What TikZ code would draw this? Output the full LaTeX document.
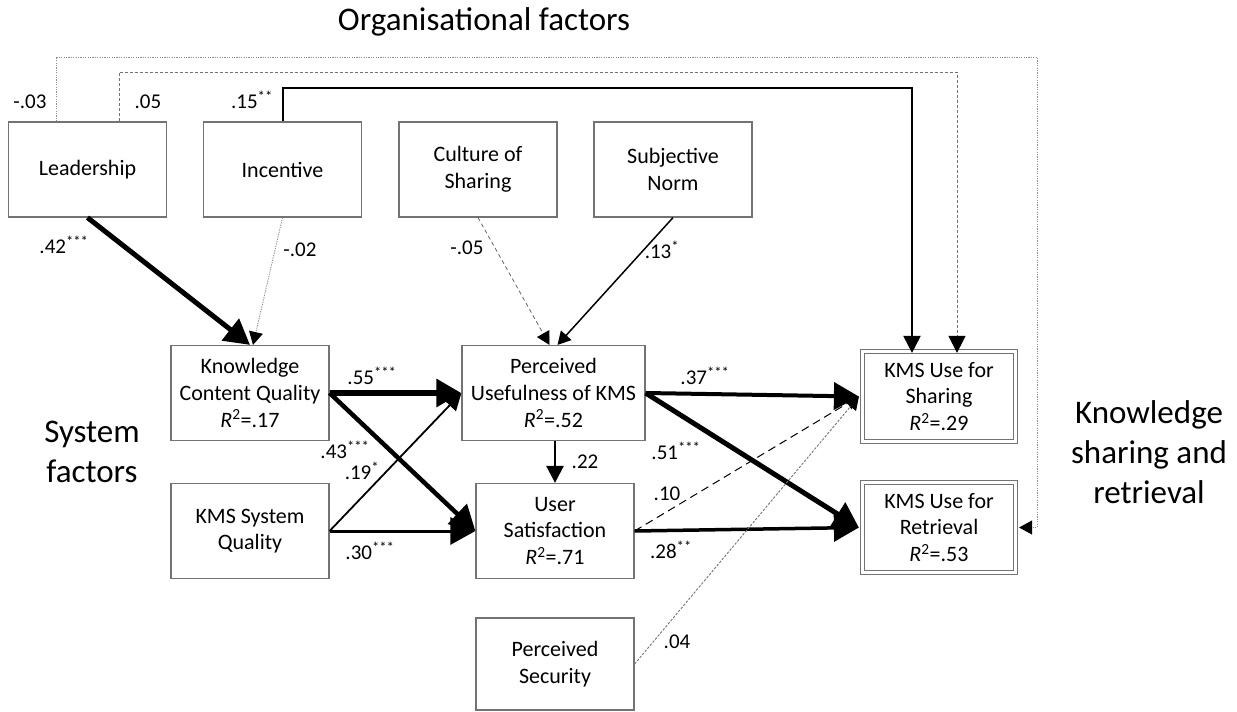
\documentclass[tikz,border=0pt]{standalone}
\usepackage{fontspec}
\setmainfont{Carlito}
\usetikzlibrary{arrows.meta,calc}
\begin{document}
\begin{tikzpicture}[x=1pt,y=-1pt,
  box/.style={draw=black!55,line width=1.2pt,rectangle,minimum width=158pt,minimum height=95pt,align=center,inner sep=2pt,
    font=\fontsize{22}{26.7}\selectfont},
  dbox/.style={draw=black!55,line width=1.2pt,double=white,double distance=2.4pt,rectangle,minimum width=153pt,minimum height=90pt,align=center,inner sep=2pt,
    font=\fontsize{22}{26.7}\selectfont},
  lab/.style={font=\fontsize{21}{25}\selectfont,inner sep=0pt},
  big/.style={font=\fontsize{33}{40}\selectfont,align=center,inner sep=0pt},
  bigtip/.style={-{Triangle[length=25pt,width=27pt,color=black]}},
  midtip/.style={-{Triangle[length=17pt,width=17pt,color=black]}},
  smalltip/.style={-{Triangle[length=13pt,width=14pt,color=black]}},
  dotline/.style={draw=black!45,line width=0.9pt,dash pattern=on 1.2pt off 1.2pt},
  dashline/.style={draw=black!60,line width=1pt,dash pattern=on 4pt off 3pt},
]
\useasboundingbox (0,0) rectangle (1237,712);

% group titles
\node[big] (torg) at (484,22) {Organisational factors};
\node[big] (tsys) at (92,452) {System\\factors};
\node[big] (tks) at (1149,452) {Knowledge\\sharing and\\retrieval};

% boxes
\node[box] (lead) at (87.5,169.5) {Leadership};
\node[box] (inc) at (282.5,169.5) {Incentive};
\node[box] (cult) at (478,169.5) {Culture of\\Sharing};
\node[box] (sn) at (673,169.5) {Subjective\\Norm};
\node[box] (kcq) at (250,393) {Knowledge\\Content Quality\\\textit{R}\textsuperscript{2}=.17};
\node[box] (sq) at (250,531) {KMS System\\Quality};
\node[box,minimum width=183pt] (pu) at (553.5,393) {Perceived\\Usefulness of KMS\\\textit{R}\textsuperscript{2}=.52};
\node[box] (us) at (555,531) {User\\Satisfaction\\\textit{R}\textsuperscript{2}=.71};
\node[box,minimum height=92pt] (ps) at (555,664) {Perceived\\Security};
\node[dbox] (share) at (939,396.5) {KMS Use for\\Sharing\\\textit{R}\textsuperscript{2}=.29};
\node[dbox] (retr) at (939,527.5) {KMS Use for\\Retrieval\\\textit{R}\textsuperscript{2}=.53};

% corner coordinates of the top connectors
\coordinate (dotc) at (1037,57);
\coordinate (dashc) at (957,72);
\coordinate (solc) at (912,88);

% organisational factors to KMS use
\draw[dotline,smalltip] ([xshift=-31.5pt]lead.north) |- (dotc) |- ([xshift=3pt]retr.east);
\draw[dashline,draw=black!55,line width=1pt,dash pattern=on 3pt off 2pt,midtip] ([xshift=31.5pt]lead.north) |- (dashc) -- ([xshift=18pt,yshift=-2pt]share.north);
\draw[line width=2pt,midtip] (inc.north) |- (solc) -- ([xshift=-27pt,yshift=-2pt]share.north);

% into knowledge content quality
\draw[line width=5pt,bigtip] (lead.south) -- (kcq.north);
\draw[dotline,smalltip] (inc.south) -- ([xshift=3pt]kcq.north);

% into perceived usefulness
\draw[dashline,draw=black!60,line width=0.8pt,smalltip] (cult.south) -- ([xshift=-4pt]pu.north);
\draw[line width=1.5pt,smalltip] (sn.south) -- ([xshift=4pt]pu.north);
\draw[line width=6pt,bigtip] (kcq.east) -- (pu.west);
\draw[line width=1.8pt,midtip] (sq.east) -- (pu.west);

% into user satisfaction
\draw[line width=4.5pt,bigtip] (kcq.east) -- (us.west);
\draw[line width=3pt,bigtip] (sq.east) -- (us.west);
\draw[line width=2.5pt,midtip] (pu.south -| us.north) -- (us.north);

% into KMS use
\draw[line width=4pt,bigtip] (pu.east) -- ([xshift=-3pt]share.west);
\draw[line width=5pt,bigtip] (pu.east) -- ([xshift=-3pt]retr.west);
\draw[line width=3.5pt,bigtip] (us.east) -- ([xshift=-3pt]retr.west);
\draw[line width=1pt,dash pattern=on 8pt off 5pt,smalltip] (us.east) -- ([xshift=-3pt]share.west);
\draw[dotline,draw=black!55,dash pattern=on 2.5pt off 1.5pt,smalltip] (ps.east) -- ([xshift=-3pt]share.west);

% coefficient labels
\node[lab] (l03) at (30,102) {-.03};
\node[lab] (l05) at (148,102) {.05};
\node[lab] (l15) at (252,100) {.15\textsuperscript{**}};
\node[lab] (l42) at (64,245) {.42\textsuperscript{***}};
\node[lab] (l02) at (300,250) {-.02};
\node[lab] (lm05) at (467,248) {-.05};
\node[lab] (l13) at (662,250) {.13\textsuperscript{*}};
\node[lab] (l55) at (372,376) {.55\textsuperscript{***}};
\node[lab] (l43) at (345,450) {.43\textsuperscript{***}};
\node[lab] (l19) at (362,471) {.19\textsuperscript{*}};
\node[lab] (l30) at (370,551) {.30\textsuperscript{***}};
\node[lab] (l22) at (585,462) {.22};
\node[lab] (l37) at (705,376) {.37\textsuperscript{***}};
\node[lab] (l51) at (676,451) {.51\textsuperscript{***}};
\node[lab] (l10) at (667,494) {.10};
\node[lab] (l28) at (671,550) {.28\textsuperscript{**}};
\node[lab] (l04) at (677,642) {.04};
\end{tikzpicture}
\end{document}
